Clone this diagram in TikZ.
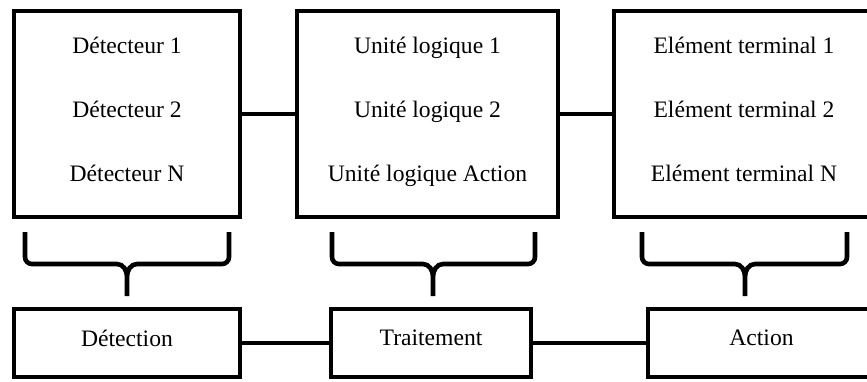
\documentclass[tikz,border=0pt]{standalone}
\usepackage{fontspec}
\setmainfont{Liberation Serif}
\usepackage{tikz}
\usetikzlibrary{positioning}
\tikzset{
    bigbox/.style={
        rectangle,
        draw=black,
        line width=2pt,
        align=center,
        text depth=5pt,
        minimum height=103pt,
        font=\fontsize{11.8}{32}\selectfont
    },
    stagebox/.style={
        rectangle,
        draw=black,
        line width=2pt,
        text depth=5pt,
        minimum height=34pt,
        font=\fontsize{11.8}{14}\selectfont
    },
    link/.style={
        draw=black,
        line width=2pt
    },
    bracket/.style={
        draw=black,
        line width=2.3pt
    }
}
\begin{document}
\begin{tikzpicture}[x=0.5pt, y=-0.5pt]
\useasboundingbox (0,0) rectangle (867,381);

% Upper row
\node[bigbox, minimum width=113pt] (det) at (127,114) {D\'etecteur 1\\D\'etecteur 2\\D\'etecteur N};
\node[bigbox, minimum width=130.5pt] (unit) at (427.5,114) {Unit\'e logique 1\\Unit\'e logique 2\\Unit\'e logique Action};
\node[bigbox, minimum width=130pt] (elem) at (744,114) {El\'ement terminal 1\\El\'ement terminal 2\\El\'ement terminal N};

% Lower row
\node[stagebox, minimum width=113pt] (detect) at (127,343) {D\'etection};
\node[stagebox, minimum width=100pt] (trait) at (431,343) {Traitement};
\node[stagebox, minimum width=113.5pt] (act) at (761.5,343) {Action};

% Connections
\draw[link] (det) -- (unit);
\draw[link] (unit) -- (elem);
\draw[link] (detect) -- (trait);
\draw[link] (trait) -- (act);

% Braces
\draw[bracket] (25,232) -- (25,257) to[out=-90,in=180] (32,264) -- (117,264) to[out=0,in=90] (127,277) -- (127,296)
    (229,232) -- (229,257) to[out=-90,in=0] (222,264) -- (137,264) to[out=180,in=90] (127,277);
\draw[bracket] (332,232) -- (332,257) to[out=-90,in=180] (339,264) -- (423,264) to[out=0,in=90] (433,277) -- (433,296)
    (535,232) -- (535,257) to[out=-90,in=0] (528,264) -- (443,264) to[out=180,in=90] (433,277);
\draw[bracket] (642,232) -- (642,257) to[out=-90,in=180] (649,264) -- (735,264) to[out=0,in=90] (745,277) -- (745,296)
    (847,232) -- (847,257) to[out=-90,in=0] (840,264) -- (755,264) to[out=180,in=90] (745,277);

\end{tikzpicture}
\end{document}
